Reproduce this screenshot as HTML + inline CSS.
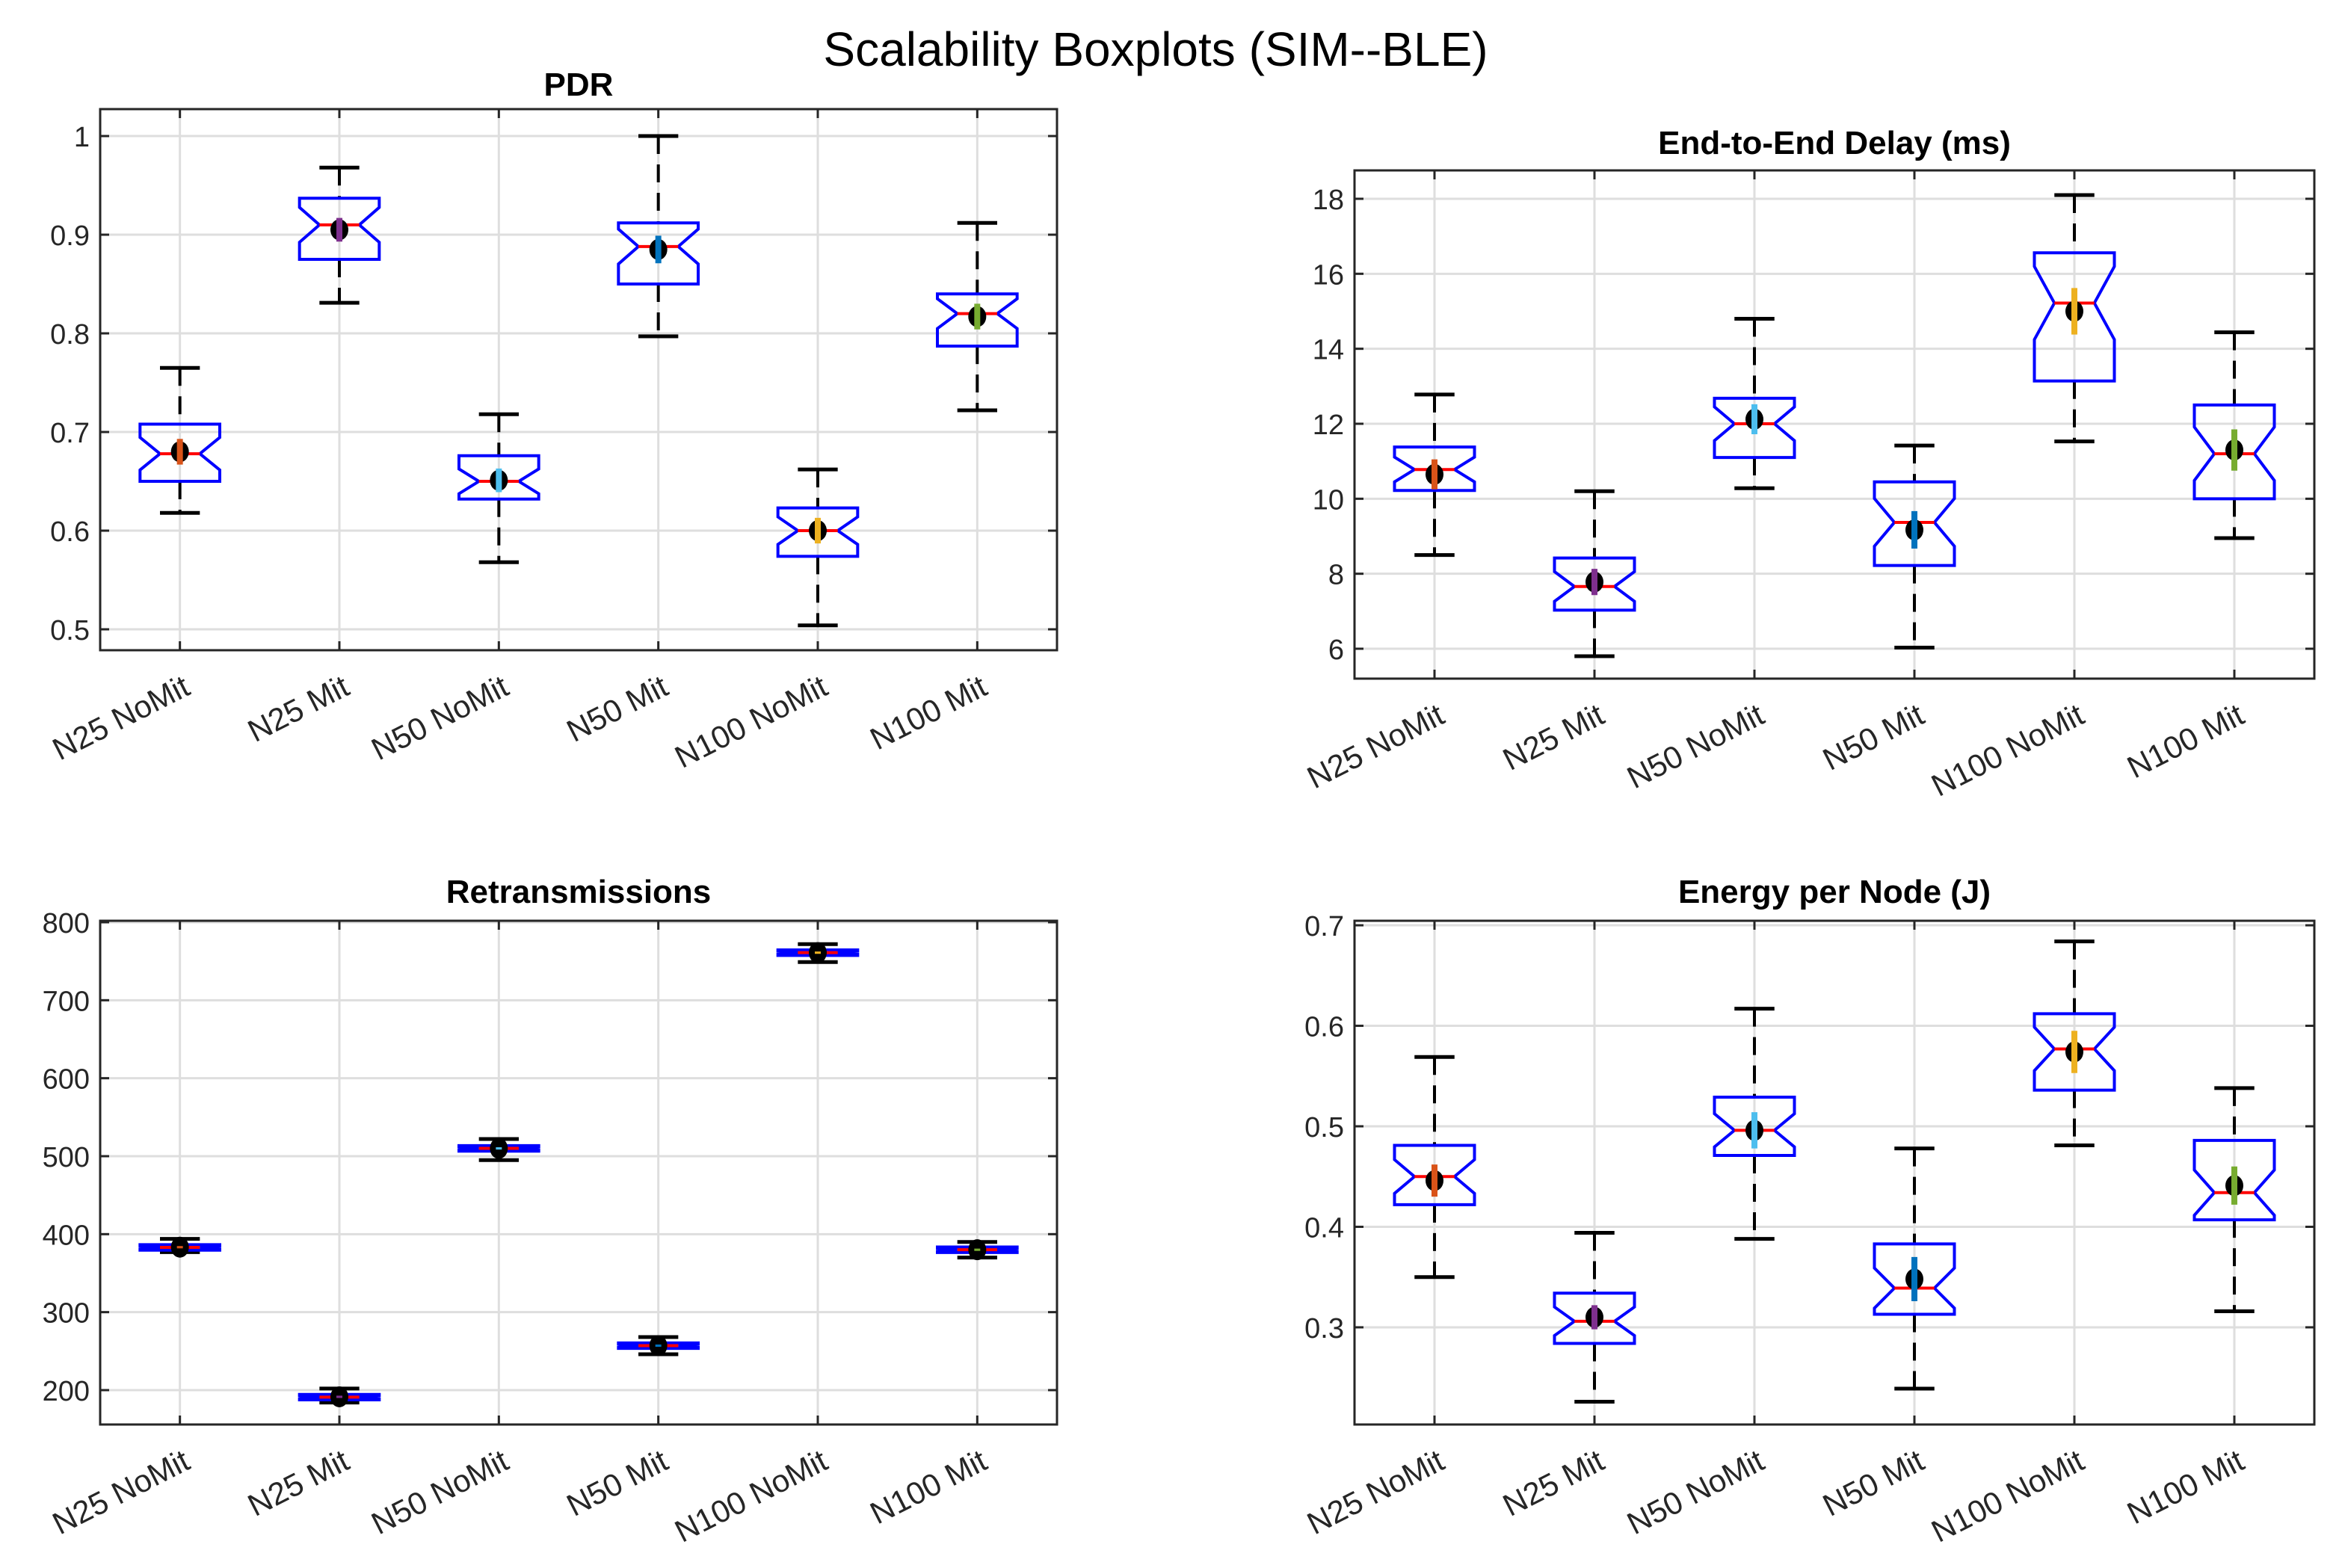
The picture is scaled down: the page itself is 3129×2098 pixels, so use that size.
<!DOCTYPE html>
<html><head><meta charset="utf-8">
<style>
html,body{margin:0;padding:0;background:#fff;}
svg{display:block;font-family:"Liberation Sans",sans-serif;}
</style></head>
<body>
<svg id="fig" width="3129" height="2098" viewBox="0 0 3129 2098">
<text x="1546" y="88" font-size="64" text-anchor="middle" fill="#000">Scalability Boxplots (SIM--BLE)</text>
</svg>
<script>
const categories = ["N25 NoMit","N25 Mit","N50 NoMit","N50 Mit","N100 NoMit","N100 Mit"];
const meanColors = ["#D95319","#7E2F8E","#4DBEEE","#0072BD","#EDB120","#77AC30"];

const pdrHigh = [0.765,0.968,0.718,1.0,0.662,0.912];
const pdrQ3 = [0.708,0.937,0.676,0.912,0.623,0.840];
const pdrMed = [0.678,0.910,0.650,0.888,0.600,0.820];
const pdrQ1 = [0.650,0.875,0.632,0.850,0.574,0.787];
const pdrLow = [0.618,0.831,0.568,0.797,0.504,0.722];
const pdrMean = [0.680,0.905,0.651,0.885,0.600,0.817];
const pdrCI = [0.013,0.012,0.012,0.014,0.013,0.013];
const pdrTicks = [0.5,0.6,0.7,0.8,0.9,1];
const pdrTickLabels = ["0.5","0.6","0.7","0.8","0.9","1"];

const delayHigh = [12.78,10.2,14.8,11.42,18.1,14.44];
const delayQ3 = [11.38,8.42,12.68,10.45,16.56,12.5];
const delayMed = [10.78,7.66,12.0,9.37,15.22,11.2];
const delayQ1 = [10.22,7.03,11.1,8.22,13.14,10.0];
const delayLow = [8.5,5.8,10.28,6.03,11.53,8.95];
const delayMean = [10.65,7.78,12.12,9.17,15.0,11.3];
const delayCI = [0.4,0.35,0.4,0.5,0.62,0.55];
const delayTicks = [6,8,10,12,14,16,18];
const delayTickLabels = ["6","8","10","12","14","16","18"];

const retHigh = [394,202,522,268,772,390];
const retQ3 = [386.5,194.5,513.5,260.5,764.5,383.5];
const retMed = [383,191,510,257,761,380];
const retQ1 = [379.5,187.5,506.5,253.5,757.5,376.5];
const retLow = [377,184,495,246,749,370];
const retMean = [383.3,191.4,510,257,761,380];
const retCI = [1.5,1.5,1.5,1.5,1.5,1.5];
const retTicks = [200,300,400,500,600,700,800];
const retTickLabels = ["200","300","400","500","600","700","800"];

const enHigh = [0.569,0.394,0.617,0.478,0.684,0.538];
const enQ3 = [0.481,0.334,0.529,0.383,0.612,0.486];
const enMed = [0.450,0.306,0.496,0.339,0.577,0.434];
const enQ1 = [0.422,0.284,0.471,0.313,0.536,0.407];
const enLow = [0.350,0.226,0.388,0.239,0.481,0.316];
const enMean = [0.446,0.310,0.496,0.348,0.574,0.441];
const enCI = [0.016,0.012,0.018,0.022,0.021,0.019];
const enTicks = [0.3,0.4,0.5,0.6,0.7];
const enTickLabels = ["0.3","0.4","0.5","0.6","0.7"];

const NS = "http://www.w3.org/2000/svg";
const svg = document.getElementById("fig");
function mk(tag, attrs, parent){
  const e = document.createElementNS(NS, tag);
  for (const k in attrs) e.setAttribute(k, attrs[k]);
  (parent||svg).appendChild(e);
  return e;
}

function panel(key, title, titleY, L, R, T, B, yMin, yMax, hi, q3, med, q1, lo, mean, ci, ticks, tickLabels){
  const g = mk("g", {});
  
  
  const xs = i => L + (i + 0.5) * (R - L) / categories.length;
  const ys = v => B - (v - yMin) / (yMax - yMin) * (B - T);
  const sp = (R - L) / categories.length;
  mk("rect", {x:L, y:T, width:R-L, height:B-T, fill:"#fff"}, g);
  ticks.forEach((t, i) => {
    const y = ys(t);
    const gl = mk("line", {x1:L, x2:R, y1:y, y2:y, stroke:"#dedede", "stroke-width":3}, g);
    
    
    mk("line", {x1:L, x2:L+12, y1:y, y2:y, stroke:"#262626", "stroke-width":3}, g);
    mk("line", {x1:R-12, x2:R, y1:y, y2:y, stroke:"#262626", "stroke-width":3}, g);
    const tl = mk("text", {x:L-14, y:y+14, "font-size":38, "text-anchor":"end", fill:"#262626"}, g);
    tl.textContent = tickLabels[i];
    
    
  });
  categories.forEach((c, i) => {
    const x = xs(i);
    const gl = mk("line", {x1:x, x2:x, y1:T, y2:B, stroke:"#dedede", "stroke-width":3}, g);
    
    
    mk("line", {x1:x, x2:x, y1:B-12, y2:B, stroke:"#262626", "stroke-width":3}, g);
    mk("line", {x1:x, x2:x, y1:T, y2:T+12, stroke:"#262626", "stroke-width":3}, g);
    const lx = x + 16, ly = B + 58;
    const tl = mk("text", {x:lx, y:ly, "font-size":42, "text-anchor":"end", fill:"#262626", transform:"rotate(-27 "+lx+" "+ly+")"}, g);
    tl.textContent = c;
    
    
  });
  categories.forEach((c, i) => {
    const x = xs(i);
    const bw = sp * 0.25, cw = sp * 0.125;
    const bg = mk("g", {}, g);
    
    
    const wu = mk("line", {x1:x, x2:x, y1:ys(hi[i]), y2:ys(q3[i]), stroke:"#000", "stroke-width":4, "stroke-dasharray":"24 14"}, bg);
    
    
    const wl = mk("line", {x1:x, x2:x, y1:ys(q1[i]), y2:ys(lo[i]), stroke:"#000", "stroke-width":4, "stroke-dasharray":"24 14"}, bg);
    
    
    const cu = mk("line", {x1:x-cw, x2:x+cw, y1:ys(hi[i]), y2:ys(hi[i]), stroke:"#000", "stroke-width":5}, bg);
    
    
    const cl = mk("line", {x1:x-cw, x2:x+cw, y1:ys(lo[i]), y2:ys(lo[i]), stroke:"#000", "stroke-width":5}, bg);
    
    
    const nh = 0.285 * (q3[i] - q1[i]);
    const nTop = ys(med[i] + nh), nBot = ys(med[i] - nh), ym = ys(med[i]);
    const pts = [[x-bw,ys(q3[i])],[x+bw,ys(q3[i])],[x+bw,nTop],[x+cw,ym],[x+bw,nBot],[x+bw,ys(q1[i])],[x-bw,ys(q1[i])],[x-bw,nBot],[x-cw,ym],[x-bw,nTop]];
    const box = mk("polygon", {points:pts.map(p=>p.join(",")).join(" "), fill:"none", stroke:"#0000ff", "stroke-width":4}, bg);
    
    
    const md = mk("line", {x1:x-cw, x2:x+cw, y1:ym, y2:ym, stroke:"#ff0000", "stroke-width":4}, bg);
    
    
    const mc = mk("ellipse", {cx:x, cy:ys(mean[i]), rx:12, ry:14, fill:"#000"}, bg);
    
    
    const cib = mk("line", {x1:x, x2:x, y1:ys(mean[i]+ci[i]), y2:ys(mean[i]-ci[i]), stroke:meanColors[i], "stroke-width":8}, bg);
    
    
  });
  const fr = mk("rect", {x:L, y:T, width:R-L, height:B-T, fill:"none", stroke:"#262626", "stroke-width":3}, g);
  
  
  const tt = mk("text", {x:(L+R)/2, y:titleY, "font-size":44, "font-weight":"bold", "text-anchor":"middle", fill:"#000"}, g);
  tt.textContent = title;
  
  
}

panel("pdr", "PDR", 128, 134, 1414, 146, 870, 0.4788, 1.0273, pdrHigh, pdrQ3, pdrMed, pdrQ1, pdrLow, pdrMean, pdrCI, pdrTicks, pdrTickLabels);
panel("delay", "End-to-End Delay (ms)", 206, 1812, 3096, 228, 908, 5.203, 18.757, delayHigh, delayQ3, delayMed, delayQ1, delayLow, delayMean, delayCI, delayTicks, delayTickLabels);
panel("retransmissions", "Retransmissions", 1208, 134, 1414, 1232, 1906, 155.9, 801.9, retHigh, retQ3, retMed, retQ1, retLow, retMean, retCI, retTicks, retTickLabels);
panel("energy", "Energy per Node (J)", 1208, 1812, 3096, 1232, 1906, 0.2033, 0.7045, enHigh, enQ3, enMed, enQ1, enLow, enMean, enCI, enTicks, enTickLabels);
</script>
</body></html>
